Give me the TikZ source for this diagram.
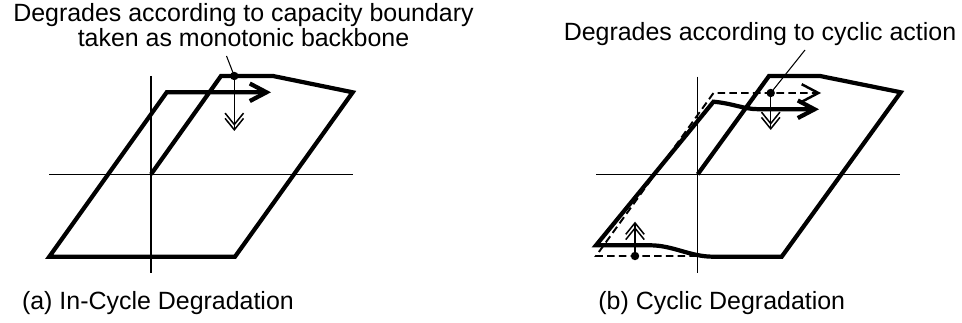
\documentclass[tikz,border=0pt]{standalone}
\usepackage{fontspec}
\setmainfont{Liberation Sans}
\usetikzlibrary{arrows.meta}

\begin{document}
\begin{tikzpicture}[x=0.02cm, y=-0.02cm,
  every node/.style={inner sep=0pt, font=\fontsize{14.2}{12.3}\selectfont},
  axisline/.style={line width=0.6pt},
  loopline/.style={line width=2.4pt, line join=miter},
  backbone/.style={line width=1.1pt, dash pattern=on 4.3pt off 2.4pt},
  bigtip/.style={-{Straight Barb[length=9.5pt,width=10pt]}},
  shiftarrow/.style={line width=0.85pt,
    -{Straight Barb[length=6.5pt,width=10.5pt,sep=-4.6pt]Straight Barb[length=6.5pt,width=10.5pt]}},
  leader/.style={line width=0.6pt},
  marker/.style={circle, fill=black, minimum size=4.8pt}]

\useasboundingbox (0,0) rectangle (962,323);

% ---------------- (a) in-cycle degradation ----------------
\coordinate (oa) at (151,174.3);
\coordinate (av1) at (151,76);   \coordinate (av2) at (151,273);
\coordinate (ah1) at (49,174.3); \coordinate (ah2) at (352.7,174.3);
\draw[axisline] (av1) -- (av2);
\draw[axisline] (ah1) -- (ah2);

\coordinate (a1) at (221,76);
\coordinate (a2) at (273,76);
\coordinate (a3) at (352.7,92.3);
\coordinate (a4) at (235,256.7);
\coordinate (a5) at (49.3,256.7);
\coordinate (a6) at (166.7,92.3);
\coordinate (a7) at (271,92.3);
\draw[loopline, bigtip] (oa) -- (a1) -- (a2) -- (a3) -- (a4) -- (a5) -- (a6) -- (a7);

\node[marker] (pa) at (234.3,76) {};
\coordinate (pa-end) at (234.3,131);
\draw[shiftarrow] (pa.center) -- (pa-end);

% two-line note; the base anchor sits on the last line
\node[anchor=base, align=center] (noteA) at (243.5,46.7)
  {Degrades according to capacity boundary\\taken as monotonic backbone};
\coordinate (la) at (226.5,56);
\draw[leader] (la) -- (pa.center);

\node[anchor=base west] (capA) at (21.7,310) {(a) In-Cycle Degradation};

% ---------------- (b) cyclic degradation ----------------
\coordinate (ob) at (697.7,174.3);
\coordinate (bv1) at (697.7,76.7); \coordinate (bv2) at (697.7,273);
\coordinate (bh1) at (596,174.3);  \coordinate (bh2) at (900,174.3);
\draw[axisline] (bv1) -- (bv2);
\draw[axisline] (bh1) -- (bh2);

% original (undegraded) loop, dashed
\coordinate (d0) at (697,256);
\coordinate (d1) at (596,256);
\coordinate (d2) at (713.5,93);
\coordinate (d3) at (821,93);
\draw[backbone, -{Straight Barb[length=9.5pt,width=10pt,line width=1.4pt]}]
  (d0) -- (d1) -- (d2) -- (d3);

% degraded loop
\coordinate (b1) at (769,76);
\coordinate (b2) at (820,76);
\coordinate (b3) at (900.7,92.3);
\coordinate (b4) at (781.7,256.7);
\coordinate (b5) at (713,256.7);
\coordinate (b6) at (650,245.3);
\coordinate (b7) at (596,245.3);
\coordinate (b8) at (713.5,101.7);
\coordinate (b9) at (758,109.2);
\coordinate (b10) at (819,109.3);
\draw[loopline, bigtip] (ob) -- (b1) -- (b2) -- (b3) -- (b4) -- (b5)
  .. controls (690,256.7) and (673,245.3) .. (b6) -- (b7) -- (b8)
  .. controls (733,103.5) and (744,109.2) .. (b9) -- (b10);

\node[marker] (pb) at (770.7,93) {};
\coordinate (pb-end) at (770.7,130);
\draw[shiftarrow] (pb.center) -- (pb-end);

\node[marker] (pc) at (635,256) {};
\coordinate (pc-end) at (635,221.7);
\draw[shiftarrow] (pc.center) -- (pc-end);

\node[anchor=base] (noteB) at (760,41) {Degrades according to cyclic action};
\coordinate (lb) at (805,50);
\draw[leader] (lb) -- (pb.center);

\node[anchor=base west] (capB) at (598,310) {(b) Cyclic Degradation};

\end{tikzpicture}
\end{document}
